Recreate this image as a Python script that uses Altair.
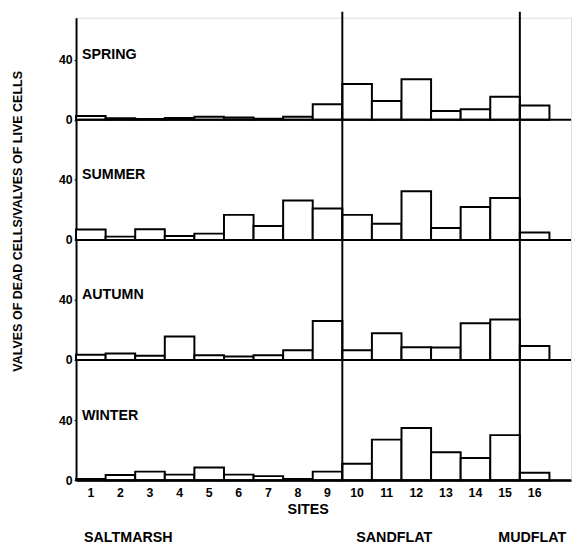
import altair as alt
import pandas as pd

sites = list(range(1, 17))
seasons = ["SPRING", "SUMMER", "AUTUMN", "WINTER"]
spring = [2.5, 1.0, 0.5, 1.3, 2.0, 1.5, 0.7, 2.0, 10.3, 23.8, 12.5, 27.0, 5.9, 7.0, 15.3, 9.6]
summer = [7.0, 2.2, 7.1, 2.6, 4.2, 16.7, 9.3, 26.3, 21.0, 16.7, 10.8, 32.5, 8.0, 22.0, 28.0, 5.0]
autumn = [3.5, 4.3, 2.8, 15.7, 3.2, 2.4, 3.2, 6.5, 26.0, 6.5, 17.9, 8.6, 8.3, 24.5, 27.0, 9.3]
winter = [0.8, 3.5, 5.7, 3.7, 8.4, 3.7, 2.7, 0.8, 5.7, 11.0, 27.0, 34.8, 18.6, 14.8, 30.0, 4.9]
site_labels = [str(s) for s in sites]
zone_names = ["SALTMARSH", "SANDFLAT", "MUDFLAT"]
zone_starts = [0.77, 9.97, 14.77]
zone_bounds = [9.5, 15.5]

PANEL = 80  # y units per season panel
offsets = {"SPRING": 3 * PANEL, "SUMMER": 2 * PANEL, "AUTUMN": PANEL, "WINTER": 0}
values = {"SPRING": spring, "SUMMER": summer, "AUTUMN": autumn, "WINTER": winter}

rows = []
for s in seasons:
    for site, v in zip(sites, values[s]):
        rows.append({"season": s, "site": site, "value": v, "offset": offsets[s]})
bars_df = pd.DataFrame(rows)
season_df = pd.DataFrame({"season": seasons, "offset": [offsets[s] for s in seasons]})
bound_df = pd.DataFrame({"x": zone_bounds})
zone_df = pd.DataFrame({"name": zone_names, "x": zone_starts})
site_df = pd.DataFrame({"site": sites, "label": site_labels})

W, H = 502, 469
FONT = "Liberation Sans"
xscale = alt.Scale(domain=[0.5, 17.23], nice=False, zero=False)
yscale = alt.Scale(domain=[0, 308], nice=False, zero=False)

bars = alt.Chart(bars_df).transform_calculate(
    x0="datum.site - 0.5", x1="datum.site + 0.5",
    y0="datum.offset", y1="datum.offset + datum.value"
).mark_rect(fill="white", stroke="black", strokeWidth=2).encode(
    x=alt.X("x0:Q", scale=xscale,
            axis=alt.Axis(values=sites, title="SITES", labels=False, ticks=False,
                          domainColor="black", domainWidth=2, grid=False,
                          titleFont=FONT, titleFontWeight="bold", titleFontSize=14.5,
                          titleColor="black", titleX=235, titleY=30, titleAlign="center",
                          titleBaseline="middle", titleAnchor="start")),
    x2="x1:Q",
    y=alt.Y("y0:Q", scale=yscale,
            axis=alt.Axis(values=[0, 40, 80, 120, 160, 200, 240, 280],
                          labelExpr="datum.value % 80 == 0 ? '0' : '40'",
                          title="VALVES OF DEAD CELLS/VALVES OF LIVE CELLS",
                          labelFont=FONT, labelFontWeight="bold", labelFontSize=12.5,
                          labelColor="black", tickSize=2, tickColor="black", labelPadding=2,
                          labelOverlap=False,
                          domainColor="black", domainWidth=2, grid=False,
                          titleFont=FONT, titleFontWeight="bold", titleFontSize=12.7,
                          titleColor="black", titleX=-59, titleY=206, titleAlign="center",
                          titleBaseline="middle", titleAngle=-90)),
    y2="y1:Q",
)

baselines = alt.Chart(season_df).mark_rule(color="black", strokeWidth=2).encode(
    x=alt.value(0), x2=alt.value(W), y=alt.Y("offset:Q", scale=yscale)
)

bounds = alt.Chart(bound_df).mark_rule(color="black", strokeWidth=2).encode(
    x=alt.X("x:Q", scale=xscale), y=alt.value(H), y2=alt.value(-6)
)

labels = alt.Chart(season_df).transform_calculate(
    ly="datum.offset + 43", lx="0.7"
).mark_text(align="left", baseline="middle", font=FONT, fontWeight="bold",
            fontSize=14.5, color="black").encode(
    x=alt.X("lx:Q", scale=xscale),
    y=alt.Y("ly:Q", scale=yscale),
    text="season:N",
)

site_text = alt.Chart(site_df).mark_text(align="center", baseline="middle", font=FONT,
                                         fontWeight="bold", fontSize=12.5, color="black").encode(
    x=alt.X("site:Q", scale=xscale), y=alt.value(H + 13), text="label:N"
)

zones = alt.Chart(zone_df).mark_text(align="left", baseline="middle", font=FONT,
                                     fontWeight="bold", fontSize=14.5, color="black").encode(
    x=alt.X("x:Q", scale=xscale), y=alt.value(H + 59), text="name:N"
)

chart = alt.layer(bars, baselines, bounds, labels, site_text, zones).properties(
    width=W, height=H,
    autosize=alt.AutoSizeParams(type="none"),
    padding={"left": 69, "top": 6, "right": 2, "bottom": 70},
).configure_view(stroke=None).configure(background="white")

chart.save("out.html", embed_options={"renderer": "svg", "actions": False})
